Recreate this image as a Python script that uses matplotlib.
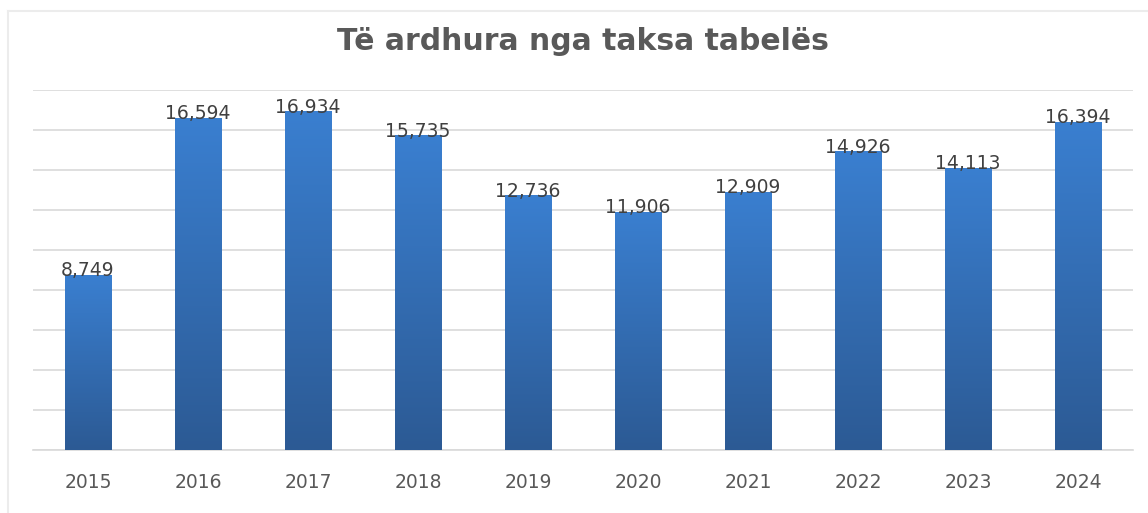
import matplotlib.pyplot as plt
import numpy as np
from matplotlib.lines import Line2D
from matplotlib.colors import LinearSegmentedColormap

years = ["2015", "2016", "2017", "2018", "2019", "2020", "2021", "2022", "2023", "2024"]
revenue = [8749, 16594, 16934, 15735, 12736, 11906, 12909, 14926, 14113, 16394]
title = "Të ardhura nga taksa tabelës"

fig = plt.figure(figsize=(11.48, 5.13), dpi=100)
ax = fig.add_axes([33 / 1148, 1 - 450 / 513, 1100 / 1148, 360 / 513])

x = np.arange(len(years))
bars = ax.bar(x, revenue, width=0.42, color="#3575c0", zorder=2)

# vertical gradient inside each bar, light on top, dark at bottom
grad = np.linspace(0, 1, 256).reshape(-1, 1)
cmap = LinearSegmentedColormap.from_list("g", ["#2c5a94", "#3a7fd0"])
for b in bars:
    x0, y0 = b.get_x(), b.get_y()
    w, h = b.get_width(), b.get_height()
    im = ax.imshow(grad, extent=[x0, x0 + w, y0, y0 + h], origin="lower",
                   aspect="auto", cmap=cmap, zorder=3)
    im.set_clip_path(b)

for xi, v in zip(x, revenue):
    ax.annotate(f"{v:,}", (xi, v), xytext=(0, 3), textcoords="offset points",
                ha="center", va="center", fontsize=13.5, color="#404040", zorder=4)

ax.set_xlim(-0.5, len(years) - 0.5)
ax.set_ylim(0, 18000)
ax.set_yticks(np.arange(0, 18001, 2000))
ax.yaxis.grid(True, color="#d9d9d9", linewidth=1.2, zorder=0)
ax.tick_params(axis="y", left=False, labelleft=False)
ax.tick_params(axis="x", bottom=False, labelsize=13.5, labelcolor="#595959", pad=13)
ax.set_xticks(x)
ax.set_xticklabels(years)
for s in ["top", "right", "left"]:
    ax.spines[s].set_visible(False)
ax.spines["bottom"].set_color("#d9d9d9")
ax.spines["bottom"].set_linewidth(1.2)

fig.text(583 / 1148, 1 - 42 / 513, title, ha="center", va="center",
         fontsize=21.5, fontweight="bold", color="#595959", family="DejaVu Sans")

# outer chart frame (left and top edges visible)
fig.add_artist(Line2D([8 / 1148, 8 / 1148], [0, 1 - 11 / 513], color="#ececec", lw=1.5))
fig.add_artist(Line2D([8 / 1148, 1], [1 - 11 / 513, 1 - 11 / 513], color="#ececec", lw=1.5))

fig.savefig("out.png", dpi=100)
